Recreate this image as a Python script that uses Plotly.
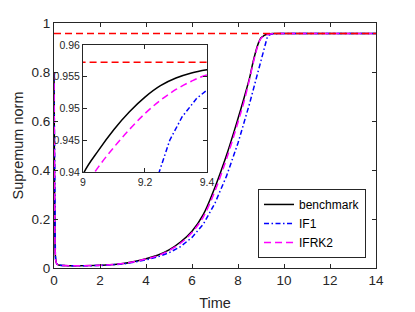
import plotly.graph_objects as go

# ---- data ----
t_bench = [0, 0.01, 0.02, 0.03, 0.04, 0.06, 0.08, 0.12, 0.2, 0.4, 1, 2, 3, 4, 4.5, 5, 5.5, 6, 6.5, 7, 7.5,
           8, 8.25, 8.5, 8.6, 8.7, 8.8, 8.85, 8.9, 8.95, 9.0, 9.05, 9.1, 9.15, 9.2, 9.25, 9.3, 9.35, 9.4,
           9.5, 9.6, 9.8, 10, 12, 14]
v_bench = [0.80, 0.62, 0.42, 0.25, 0.12, 0.05, 0.028, 0.017, 0.012, 0.010, 0.009, 0.011, 0.018, 0.038,
           0.052, 0.074, 0.106, 0.15, 0.22, 0.33, 0.46, 0.61, 0.69, 0.775, 0.818, 0.858, 0.893, 0.908,
           0.921, 0.9315, 0.9396, 0.9434, 0.9467, 0.9495, 0.9518, 0.9536, 0.9548, 0.9556, 0.9561,
           0.9568, 0.9571, 0.9573, 0.9573, 0.9573, 0.9573]

t_if1 = [0, 0.01, 0.02, 0.03, 0.04, 0.06, 0.08, 0.12, 0.2, 0.4, 1, 2, 3, 4, 4.5, 5, 5.5, 6, 6.5, 7, 7.5,
         8, 8.5, 8.75, 9.0, 9.1, 9.2, 9.246, 9.28, 9.32, 9.367, 9.4, 9.5, 9.6, 9.7, 9.8, 10, 12, 14]
v_if1 = [0.80, 0.62, 0.42, 0.25, 0.12, 0.05, 0.028, 0.017, 0.012, 0.010, 0.009, 0.010, 0.016, 0.033,
         0.045, 0.062, 0.087, 0.125, 0.18, 0.265, 0.375, 0.51, 0.67, 0.76, 0.85, 0.89, 0.925, 0.940,
         0.945, 0.9487, 0.9516, 0.9529, 0.9552, 0.9564, 0.9570, 0.9572, 0.9573, 0.9573, 0.9573]

t_ifrk2 = [0, 0.01, 0.02, 0.03, 0.04, 0.06, 0.08, 0.12, 0.2, 0.4, 1, 2, 3, 4, 4.5, 5, 5.5, 6, 6.5, 7, 7.5,
           8, 8.25, 8.5, 8.6, 8.7, 8.8, 8.85, 8.9, 8.95, 9.0, 9.05, 9.1, 9.15, 9.2, 9.25, 9.3, 9.35, 9.4,
           9.5, 9.6, 9.8, 10, 12, 14]
v_ifrk2 = [0.80, 0.62, 0.42, 0.25, 0.12, 0.05, 0.028, 0.017, 0.012, 0.010, 0.009, 0.011, 0.018, 0.037,
           0.050, 0.071, 0.101, 0.145, 0.21, 0.315, 0.445, 0.595, 0.675, 0.77, 0.812, 0.852, 0.888,
           0.904, 0.918, 0.929, 0.9370, 0.9408, 0.9439, 0.9467, 0.9492, 0.9513, 0.9530, 0.9543,
           0.9553, 0.9563, 0.9569, 0.9572, 0.9573, 0.9573, 0.9573]

t_ref = [0, 14]
v_ref = [0.9573, 0.9573]

x_ticks = [0, 2, 4, 6, 8, 10, 12, 14]
y_ticks = [0, 0.2, 0.4, 0.6, 0.8, 1]
y_ticktext = ["0", "0.2", "0.4", "0.6", "0.8", "1"]
xi_ticks = [9, 9.2, 9.4]
xi_ticktext = ["9", "9.2", "9.4"]
yi_ticks = [0.94, 0.945, 0.95, 0.955, 0.96]
yi_ticktext = ["0.94", "0.945", "0.95", "0.955", "0.96"]

FONT = "Liberation Sans, Arial, sans-serif"
AX = "#262626"

series = [
    ("benchmark", t_bench, v_bench, dict(color="#000000", width=1.5, shape="spline", smoothing=1)),
    ("IF1", t_if1, v_if1, dict(color="#0000ff", width=1.5, dash="5px,2.5px,1.5px,2.5px")),
    ("IFRK2", t_ifrk2, v_ifrk2, dict(color="#ff00ff", width=1.5, dash="7px,4px",
                                     shape="spline", smoothing=1)),
]

fig = go.Figure()
for name, t, v, ln in series:
    fig.add_trace(go.Scatter(x=t, y=v, mode="lines", name=name, line=ln,
                             xaxis="x", yaxis="y"))
fig.add_trace(go.Scatter(x=t_ref, y=v_ref, mode="lines", showlegend=False,
                         line=dict(color="#ff0000", width=1.5, dash="7px,4px"),
                         xaxis="x", yaxis="y"))
for name, t, v, ln in series:
    fig.add_trace(go.Scatter(x=t, y=v, mode="lines", name=name, line=ln, showlegend=False,
                             xaxis="x2", yaxis="y2"))
fig.add_trace(go.Scatter(x=t_ref, y=v_ref, mode="lines", showlegend=False,
                         line=dict(color="#ff0000", width=1.5, dash="7px,4px"),
                         xaxis="x2", yaxis="y2"))

axis_common = dict(showline=True, linecolor=AX, linewidth=1, mirror="ticks", ticks="inside",
                   ticklen=4, tickcolor=AX, showgrid=False, zeroline=False, automargin=False)

# the page body has an 8px margin, so the figure is sized to fit the 415x312 window
fig.update_layout(
    width=407, height=304,
    margin=dict(l=46, r=39, t=15, b=44),
    paper_bgcolor="white", plot_bgcolor="white",
    font=dict(family=FONT, size=13.5, color=AX),
    xaxis=dict(domain=[0, 1], range=[0, 14], tickvals=x_ticks, anchor="y",
               title=dict(text="Time", font=dict(size=14.5), standoff=10),
               tickfont=dict(size=13.5), **axis_common),
    yaxis=dict(domain=[0, 1], range=[0, 1], tickvals=y_ticks, ticktext=y_ticktext, anchor="x",
               title=dict(text="Supremum norm", font=dict(size=14.5), standoff=4),
               tickfont=dict(size=13.5), **axis_common),
    xaxis2=dict(domain=[0.090, 0.475], range=[9, 9.4], tickvals=xi_ticks, ticktext=xi_ticktext,
                anchor="y2", tickfont=dict(size=10.5), **axis_common),
    yaxis2=dict(domain=[0.392, 0.910], range=[0.94, 0.96], tickvals=yi_ticks, ticktext=yi_ticktext,
                anchor="x2", tickfont=dict(size=10.5), **axis_common),
    legend=dict(x=0.969, y=0.041, xanchor="right", yanchor="bottom",
                bgcolor="white", bordercolor=AX, borderwidth=1,
                font=dict(size=12, color="#000000"), itemwidth=30,
                tracegroupgap=0),
    showlegend=True,
)

fig.write_html("out.html")
